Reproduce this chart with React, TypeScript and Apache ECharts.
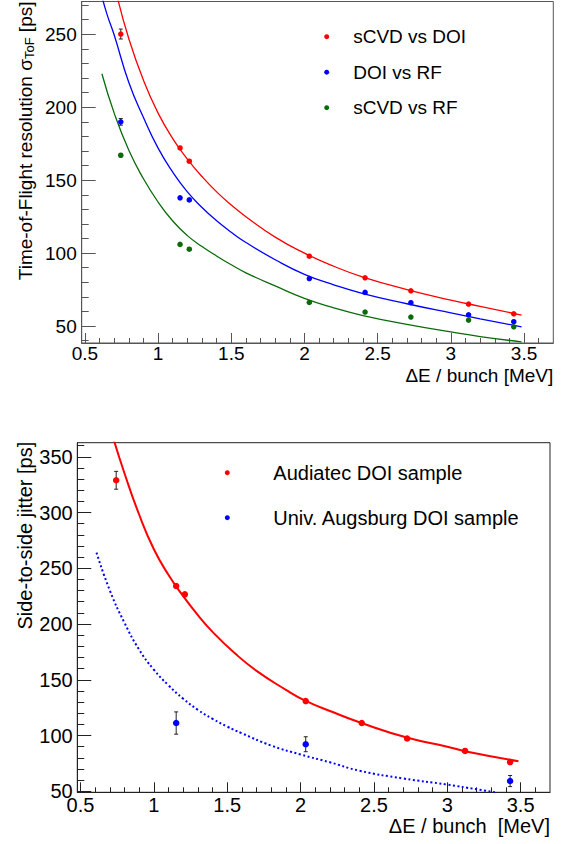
import React, { useEffect, useRef } from 'react';
import * as echarts from 'echarts';

// ---------- tick labels ----------
const xTickLabels = [0.5, 1, 1.5, 2, 2.5, 3, 3.5];
const topYTickLabels = [50, 100, 150, 200, 250];
const botYTickLabels = [50, 100, 150, 200, 250, 300, 350];

// ---------- top panel: measured points ----------
const topX = [0.745, 1.15, 1.213, 2.033, 2.414, 2.727, 3.121, 3.43];
const sCvdDoi = [250.2, 172.1, 163.0, 97.9, 83.1, 74.2, 65.1, 58.4];
const sCvdDoiErr = [3.4, 1.0, 1.0, 0.8, 0.7, 0.6, 0.5, 0.5];
const doiRf = [190.0, 137.9, 136.5, 82.6, 73.1, 66.0, 57.7, 53.0];
const doiRfErr = [2.3, 1.0, 1.0, 0.8, 0.7, 0.6, 0.5, 0.5];
const sCvdRf = [167.1, 106.0, 102.7, 66.2, 59.6, 56.2, 54.1, 49.5];
const sCvdRfErr = [1.0, 0.8, 0.8, 0.6, 0.5, 0.5, 0.5, 0.5];

// ---------- top panel: fit curves ----------
const sCvdDoiFitX = [0.72, 0.8, 0.9, 1.0, 1.1, 1.2, 1.3, 1.4, 1.5, 1.6, 1.8, 2.0, 2.2, 2.4, 2.7, 3.0, 3.2, 3.483];
const sCvdDoiFitY = [276, 247, 218.5, 196, 178.5, 164.5, 152.5, 142, 133, 125, 111, 100, 91, 83.6, 75, 67.8, 63.5, 57.5];
const doiRfFitX = [0.6, 0.65, 0.7, 0.8, 0.9, 1.0, 1.1, 1.2, 1.3, 1.4, 1.5, 1.6, 1.8, 2.0, 2.2, 2.4, 2.7, 3.0, 3.2, 3.483];
const doiRfFitY = [282, 264, 249.5, 217, 193, 172, 155.5, 142, 131.3, 122.2, 114.3, 107.3, 95.5, 85.5, 78.3, 72.3, 65.3, 59, 55, 49.5];
const sCvdRfFitX = [0.616, 0.7, 0.8, 0.9, 1.0, 1.1, 1.2, 1.3, 1.4, 1.5, 1.6, 1.8, 2.0, 2.2, 2.4, 2.7, 3.0, 3.2, 3.483];
const sCvdRfFitY = [223, 196, 170.5, 151, 135, 122, 112, 104.5, 98, 92, 86.5, 77.5, 69, 62.5, 57.2, 51.2, 46, 42.8, 39.2];

// ---------- bottom panel: measured points ----------
const audiatecX = [0.743, 1.152, 1.211, 2.035, 2.417, 2.726, 3.121, 3.428];
const audiatec = [328.9, 234.1, 226.6, 130.9, 111.2, 97.3, 86.2, 76.2];
const audiatecErr = [8.0, 1.5, 1.5, 1.5, 1.5, 1.5, 1.5, 1.5];
const augsburgX = [1.152, 2.035, 3.428];
const augsburg = [111.2, 92.2, 59.2];
const augsburgErr = [10.0, 6.7, 5.0];

// ---------- bottom panel: fit curves ----------
const audiatecFitX = [0.72, 0.8, 0.9, 1.0, 1.1, 1.2, 1.3, 1.4, 1.55, 1.7, 1.9, 2.035, 2.2, 2.42, 2.73, 3.0, 3.12, 3.485];
const audiatecFitY = [368, 335, 298, 267, 244, 225, 208, 193, 174, 158, 141, 131, 122, 111, 98, 90, 86, 77];
const augsburgFitX = [0.609, 0.7, 0.8, 0.9, 1.0, 1.1, 1.2, 1.3, 1.4, 1.5, 1.6, 1.8, 2.0, 2.2, 2.4, 2.7, 3.0, 3.2, 3.337];
const augsburgFitY = [264, 230, 201, 177, 159, 145, 133, 123, 115, 108, 102, 91, 83, 76, 68.5, 61.5, 56, 51.8, 48.8];

const FONT = '"Liberation Sans", Arial, Helvetica, sans-serif';
const RED = '#ff0000';
const BLUE = '#0000ff';
const GREEN = '#0b6b0b';

const steps = (a: number, b: number, s: number) => {
  const out: number[] = [];
  for (let v = a; v <= b + 1e-9; v += s) out.push(Math.round(v * 1000) / 1000);
  return out;
};

const pairs = (xs: number[], ys: number[]) => xs.map((x, i) => [x, ys[i]]);

function errorSeries(name: string, xs: number[], ys: number[], errs: number[], axis: number) {
  return {
    type: 'custom',
    name,
    xAxisIndex: axis,
    yAxisIndex: axis,
    silent: true,
    z: 3,
    encode: { x: 0, y: [1, 2] },
    data: xs.map((x, i) => [x, ys[i] - errs[i], ys[i] + errs[i]]),
    renderItem: (_p: any, api: any) => {
      const lo = api.coord([api.value(0), api.value(1)]);
      const hi = api.coord([api.value(0), api.value(2)]);
      const st = { stroke: '#222', lineWidth: 1 };
      const c = 2;
      return {
        type: 'group',
        children: [
          { type: 'line', shape: { x1: lo[0], y1: lo[1], x2: hi[0], y2: hi[1] }, style: st },
          { type: 'line', shape: { x1: lo[0] - c, y1: lo[1], x2: lo[0] + c, y2: lo[1] }, style: st },
          { type: 'line', shape: { x1: hi[0] - c, y1: hi[1], x2: hi[0] + c, y2: hi[1] }, style: st },
        ],
      };
    },
  };
}

function fitSeries(name: string, xs: number[], ys: number[], axis: number, color: string, width: number, type: any = 'solid') {
  return {
    type: 'line',
    name,
    xAxisIndex: axis,
    yAxisIndex: axis,
    data: pairs(xs, ys),
    smooth: 0.5,
    symbol: 'none',
    showSymbol: false,
    clip: true,
    silent: true,
    z: 2,
    lineStyle: { color, width, type },
  };
}

function pointSeries(name: string, xs: number[], ys: number[], axis: number, color: string, size: number) {
  return {
    type: 'scatter',
    name,
    xAxisIndex: axis,
    yAxisIndex: axis,
    data: pairs(xs, ys),
    symbol: 'circle',
    symbolSize: size,
    itemStyle: { color, opacity: 1 },
    z: 4,
    silent: true,
  };
}

function mainX(grid: number, color: string, fs: number, margin: number) {
  return {
    type: 'value', gridIndex: grid, position: 'bottom', min: 0.478, max: 3.7,
    axisLine: { show: true, onZero: false, lineStyle: { color, width: 1 } },
    axisTick: { show: true, inside: true, length: 10, customValues: xTickLabels, lineStyle: { color, width: 1 } },
    axisLabel: { customValues: xTickLabels, fontSize: fs, fontFamily: FONT, color: '#000', margin },
    splitLine: { show: false },
  };
}
function minorX(grid: number, color: string) {
  return {
    type: 'value', gridIndex: grid, position: 'bottom', min: 0.478, max: 3.7,
    axisLine: { show: false },
    axisTick: { show: true, inside: true, length: 5, customValues: steps(0.5, 3.6, 0.1), lineStyle: { color, width: 1 } },
    axisLabel: { show: false },
    splitLine: { show: false },
  };
}
function mainY(grid: number, min: number, max: number, labels: number[], color: string, fs: number, margin: number) {
  return {
    type: 'value', gridIndex: grid, position: 'left', min, max,
    axisLine: { show: true, onZero: false, lineStyle: { color, width: 1 } },
    axisTick: { show: true, inside: true, length: 14, customValues: labels, lineStyle: { color, width: 1 } },
    axisLabel: { customValues: labels, fontSize: fs, fontFamily: FONT, color: '#000', margin },
    splitLine: { show: false },
  };
}
function minorY(grid: number, min: number, max: number, ticks: number[], color: string) {
  return {
    type: 'value', gridIndex: grid, position: 'left', min, max,
    axisLine: { show: false },
    axisTick: { show: true, inside: true, length: 7, customValues: ticks, lineStyle: { color, width: 1 } },
    axisLabel: { show: false },
    splitLine: { show: false },
  };
}

export default function App() {
  const ref = useRef<HTMLDivElement>(null);
  useEffect(() => {
    if (!ref.current) return;
    const chart = echarts.init(ref.current, null, { renderer: 'svg' });
    const TOPC = '#555';
    const BOTC = '#222';
    chart.setOption({
      animation: false,
      backgroundColor: '#fff',
      grid: [
        { left: 81.7, right: 16.7, top: 1.5, height: 341.5, show: true, borderColor: TOPC, borderWidth: 1, backgroundColor: 'transparent', containLabel: false },
        { left: 77.3, right: 20, top: 442.7, height: 349.6, show: true, borderColor: BOTC, borderWidth: 1, backgroundColor: 'transparent', containLabel: false },
      ],
      xAxis: [mainX(0, TOPC, 19, 1), minorX(0, TOPC), mainX(1, BOTC, 20, 3), minorX(1, BOTC)],
      yAxis: [
        mainY(0, 38.4, 272.5, topYTickLabels, TOPC, 19, 5),
        minorY(0, 38.4, 272.5, steps(40, 270, 10), TOPC),
        mainY(1, 49.1, 362.6, botYTickLabels, BOTC, 20, 4.6),
        minorY(1, 49.1, 362.6, steps(50, 360, 10), BOTC),
      ],
      legend: [
        {
          data: ['sCVD vs DOI', 'DOI vs RF', 'sCVD vs RF'],
          orient: 'vertical', left: 324.2, top: 26.7, padding: 0,
          itemWidth: 5, itemHeight: 5, itemGap: 15.5, icon: 'circle', selectedMode: false,
          textStyle: { fontSize: 19, lineHeight: 20, fontFamily: FONT, color: '#000', padding: [0, 0, 0, 19] },
        },
        {
          data: ['Audiatec DOI sample', 'Univ. Augsburg DOI sample'],
          orient: 'vertical', left: 224.8, top: 462.7, padding: 0,
          itemWidth: 5, itemHeight: 5, itemGap: 25, icon: 'circle', selectedMode: false,
          textStyle: { fontSize: 20, lineHeight: 20, fontFamily: FONT, color: '#000', padding: [0, 0, 0, 38.5] },
        },
      ],
      graphic: [
        { type: 'text', x: 553.3, y: 375.5, style: { text: 'ΔE / bunch [MeV]', fontSize: 19, fontFamily: FONT, fill: '#000', align: 'right', verticalAlign: 'middle' } },
        { type: 'text', x: 550, y: 825.5, style: { text: 'ΔE / bunch  [MeV]', fontSize: 20, fontFamily: FONT, fill: '#000', align: 'right', verticalAlign: 'middle' } },
        {
          type: 'text', x: 25, y: 1.5, rotation: Math.PI / 2,
          style: {
            text: '{a|Time-of-Flight resolution σ}{s|ToF}{a| [ps]}',
            align: 'right', verticalAlign: 'middle',
            rich: {
              a: { fontSize: 19, fontFamily: FONT, fill: '#000', lineHeight: 22 },
              s: { fontSize: 13, fontFamily: FONT, fill: '#000', lineHeight: 22, padding: [9, 0, 0, 0] },
            },
          },
        },
        { type: 'text', x: 24.5, y: 441.7, rotation: Math.PI / 2, style: { text: 'Side-to-side jitter [ps]', fontSize: 20, fontFamily: FONT, fill: '#000', align: 'right', verticalAlign: 'middle' } },
      ],
      series: [
        fitSeries('sCVD vs DOI fit', sCvdDoiFitX, sCvdDoiFitY, 0, RED, 1.3),
        fitSeries('DOI vs RF fit', doiRfFitX, doiRfFitY, 0, BLUE, 1.3),
        fitSeries('sCVD vs RF fit', sCvdRfFitX, sCvdRfFitY, 0, GREEN, 1.3),
        errorSeries('sCVD vs DOI err', topX, sCvdDoi, sCvdDoiErr, 0),
        errorSeries('DOI vs RF err', topX, doiRf, doiRfErr, 0),
        errorSeries('sCVD vs RF err', topX, sCvdRf, sCvdRfErr, 0),
        pointSeries('sCVD vs DOI', topX, sCvdDoi, 0, RED, 5.5),
        pointSeries('DOI vs RF', topX, doiRf, 0, BLUE, 5.5),
        pointSeries('sCVD vs RF', topX, sCvdRf, 0, GREEN, 5.5),

        fitSeries('Audiatec fit', audiatecFitX, audiatecFitY, 2, RED, 2),
        fitSeries('Augsburg fit', augsburgFitX, augsburgFitY, 2, BLUE, 2, [2, 2.5]),
        errorSeries('Audiatec err', audiatecX, audiatec, audiatecErr, 2),
        errorSeries('Augsburg err', augsburgX, augsburg, augsburgErr, 2),
        pointSeries('Audiatec DOI sample', audiatecX, audiatec, 2, RED, 6.5),
        pointSeries('Univ. Augsburg DOI sample', augsburgX, augsburg, 2, BLUE, 6.5),
      ],
    });
    return () => chart.dispose();
  }, []);
  return <div ref={ref} style={{ position: 'absolute', left: 0, top: 0, width: 570, height: 844 }} />;
}
